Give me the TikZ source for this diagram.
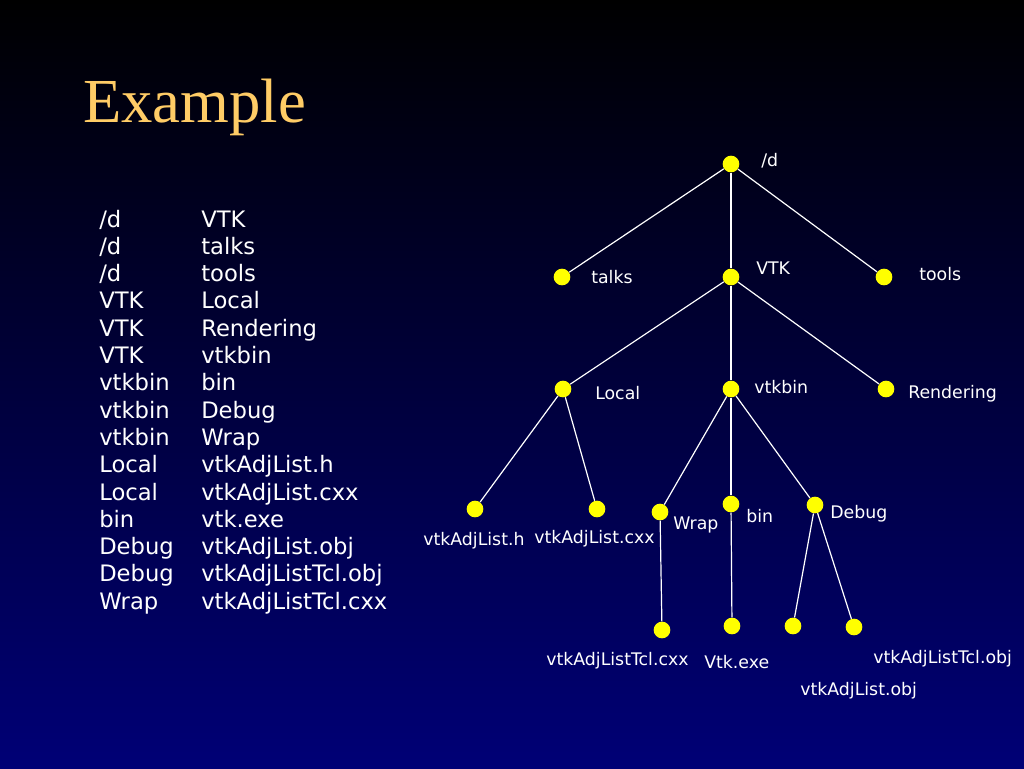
\documentclass[tikz,border=0pt]{standalone}
\usepackage{fontspec}
\setmainfont{Liberation Serif}
\newfontfamily\treefont{DejaVu Sans}
\usepackage{tikz}
\usetikzlibrary{arrows,calc,positioning,shapes}

\definecolor{titlegold}{RGB}{255,204,102}
\definecolor{dotyellow}{RGB}{255,255,0}
\definecolor{deepblue}{RGB}{0,0,118}

\begin{document}
\begin{tikzpicture}[x=0.75pt,y=-0.75pt]
	\tikzstyle{vertex} = [circle, fill=dotyellow, inner sep=0pt, minimum size=12.5pt]
	\tikzstyle{edge} = [draw=white, line width=0.9pt]
	\tikzstyle{lbl} = [anchor=base west, inner sep=0pt, text=white, font=\treefont\fontsize{13}{15}\selectfont]
	\tikzstyle{row} = [anchor=base west, inner sep=0pt, text=white, font=\treefont\fontsize{17}{20}\selectfont]
	
	% background
	\shade [top color=black, bottom color=deepblue] (0,0) rectangle (1024,768);
	\useasboundingbox (0,0) rectangle (1024,768);
	
	\node [anchor=base west, inner sep=0pt, text=titlegold, font=\fontsize{47}{56}\selectfont] (title) at (83,122) {Example};
	
	% parent / child table
	\foreach \p [count=\i] in {/d,/d,/d,VTK,VTK,VTK,vtkbin,vtkbin,vtkbin,Local,Local,bin,Debug,Debug,Wrap}
		\node [row] (par\i) at (99,{227+27.3*(\i-1)}) {\p};
	\foreach \c [count=\i] in {VTK,talks,tools,Local,Rendering,vtkbin,bin,Debug,Wrap,vtkAdjList.h,vtkAdjList.cxx,vtk.exe,vtkAdjList.obj,vtkAdjListTcl.obj,vtkAdjListTcl.cxx}
		\node [row] (chi\i) at (201,{227+27.3*(\i-1)}) {\c};
	
	% tree
	\node [vertex] (root) at (731,164) {};
	\node [vertex] (talks) at (562,277) {};
	\node [vertex] (vtk) at (731,277) {};
	\node [vertex] (tools) at (884,277) {};
	\node [vertex] (local) at (563,389) {};
	\node [vertex] (vtkbin) at (731,389) {};
	\node [vertex] (rendering) at (886,389) {};
	\node [vertex] (adjh) at (475,509) {};
	\node [vertex] (adjcxx) at (597,509) {};
	\node [vertex] (wrap) at (660,512) {};
	\node [vertex] (bin) at (731,504) {};
	\node [vertex] (debug) at (815,505) {};
	\node [vertex] (tclcxx) at (662,630) {};
	\node [vertex] (exe) at (732,626) {};
	\node [vertex] (adjobj) at (793,626) {};
	\node [vertex] (tclobj) at (854,627) {};
	
	\node [lbl] (root-l) at (761,166) {/d};
	\node [lbl] (talks-l) at (591,283) {talks};
	\node [lbl] (vtk-l) at (756,274) {VTK};
	\node [lbl] (tools-l) at (919,280) {tools};
	\node [lbl] (local-l) at (595,399) {Local};
	\node [lbl] (vtkbin-l) at (754,393) {vtkbin};
	\node [lbl] (rendering-l) at (908,398) {Rendering};
	\node [lbl] (adjh-l) at (423,545) {vtkAdjList.h};
	\node [lbl] (adjcxx-l) at (534,543) {vtkAdjList.cxx};
	\node [lbl] (wrap-l) at (673,529) {Wrap};
	\node [lbl] (bin-l) at (746,522) {bin};
	\node [lbl] (debug-l) at (830,518) {Debug};
	\node [lbl] (tclcxx-l) at (546,665) {vtkAdjListTcl.cxx};
	\node [lbl] (exe-l) at (704,668) {Vtk.exe};
	\node [lbl] (tclobj-l) at (873,663) {vtkAdjListTcl.obj};
	\node [lbl] (adjobj-l) at (800,695) {vtkAdjList.obj};
	
	\draw [edge] (root) -- (talks);
	\draw [edge] (root) -- (vtk);
	\draw [edge] (root) -- (tools);
	\draw [edge] (vtk) -- (local);
	\draw [edge] (vtk) -- (vtkbin);
	\draw [edge] (vtk) -- (rendering);
	\draw [edge] (local) -- (adjh);
	\draw [edge] (local) -- (adjcxx);
	\draw [edge] (vtkbin) -- (wrap);
	\draw [edge] (vtkbin) -- (bin);
	\draw [edge] (vtkbin) -- (debug);
	\draw [edge] (wrap) -- (tclcxx);
	\draw [edge] (bin) -- (exe);
	\draw [edge] (debug) -- (adjobj);
	\draw [edge] (debug) -- (tclobj);
	
\end{tikzpicture}
\end{document}
